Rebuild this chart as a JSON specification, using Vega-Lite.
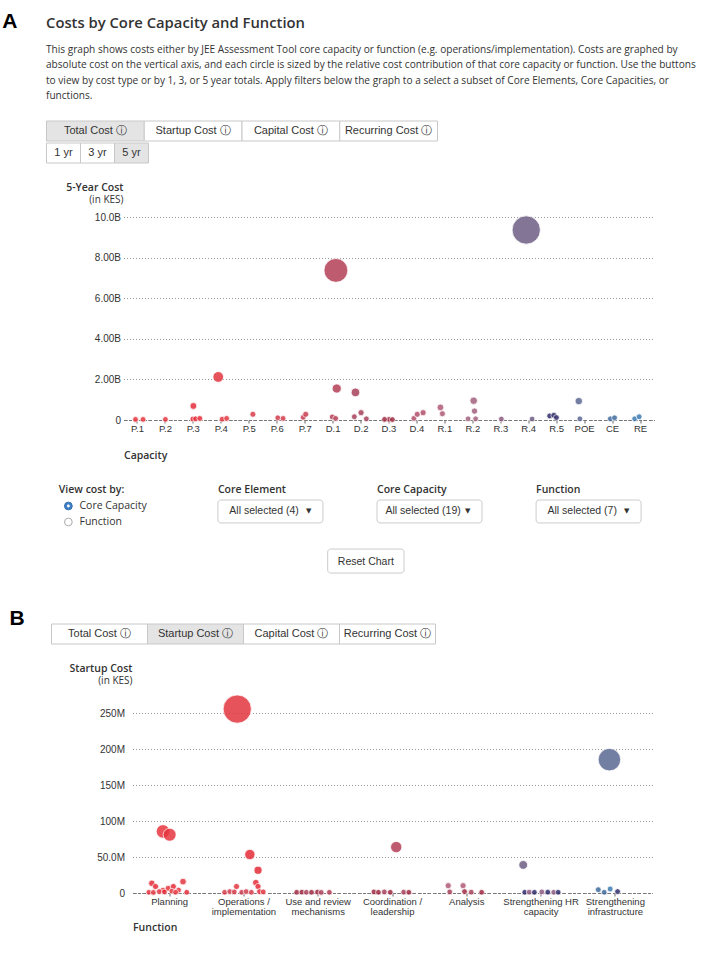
{
  "$schema": "https://vega.github.io/schema/vega-lite/v6.json",
  "background": "#ffffff",
  "padding": {"left": 1.5, "top": 11, "right": 2, "bottom": 2},
  "autosize": {"type": "pad"},
  "config": {
    "view": {"stroke": null},
    "font": "Liberation Sans",
    "axis": {"labelFont": "Liberation Sans", "titleFont": "Open Sans"},
    "title": {"font": "Open Sans"}
  },
  "resolve": {"scale": {"size": "independent", "color": "independent", "xOffset": "independent"}},
  "spacing": 29,
  "datasets": {
    "costTypesA": [
      {"button": "Total Cost ⓘ", "selected": true},
      {"button": "Startup Cost ⓘ", "selected": false},
      {"button": "Capital Cost ⓘ", "selected": false},
      {"button": "Recurring Cost ⓘ", "selected": false}
    ],
    "costTypesB": [
      {"button": "Total Cost ⓘ", "selected": false},
      {"button": "Startup Cost ⓘ", "selected": true},
      {"button": "Capital Cost ⓘ", "selected": false},
      {"button": "Recurring Cost ⓘ", "selected": false}
    ],
    "periods": [
      {"button": "1 yr", "selected": false},
      {"button": "3 yr", "selected": false},
      {"button": "5 yr", "selected": true}
    ],
    "controlLabels": [
      {"control": "View cost by:"},
      {"control": "Core Element"},
      {"control": "Core Capacity"},
      {"control": "Function"}
    ],
    "dropdowns": [
      {"control": "Core Element", "selection": "All selected (4)"},
      {"control": "Core Capacity", "selection": "All selected (19)"},
      {"control": "Function", "selection": "All selected (7)"}
    ],
    "radios": [
      {"option": "Core Capacity", "checked": true},
      {"option": "Function", "checked": false}
    ],
    "resetButton": [{"action": "Reset Chart"}],
    "capacities": [
      {"capacity": "P.1", "cost": 30000000, "jitter": -0.07},
      {"capacity": "P.1", "cost": 30000000, "jitter": 0.2},
      {"capacity": "P.2", "cost": 30000000, "jitter": 0.0},
      {"capacity": "P.3", "cost": 690000000, "jitter": 0.0},
      {"capacity": "P.3", "cost": 50000000, "jitter": -0.02},
      {"capacity": "P.3", "cost": 60000000, "jitter": 0.08},
      {"capacity": "P.3", "cost": 80000000, "jitter": 0.23},
      {"capacity": "P.4", "cost": 2120000000, "jitter": -0.11},
      {"capacity": "P.4", "cost": 40000000, "jitter": 0.03},
      {"capacity": "P.4", "cost": 80000000, "jitter": 0.19},
      {"capacity": "P.5", "cost": 280000000, "jitter": 0.13},
      {"capacity": "P.6", "cost": 110000000, "jitter": 0.02},
      {"capacity": "P.6", "cost": 80000000, "jitter": 0.21},
      {"capacity": "P.7", "cost": 130000000, "jitter": -0.07},
      {"capacity": "P.7", "cost": 280000000, "jitter": 0.02},
      {"capacity": "D.1", "cost": 7370000000, "jitter": 0.1},
      {"capacity": "D.1", "cost": 1550000000, "jitter": 0.13},
      {"capacity": "D.1", "cost": 150000000, "jitter": -0.03},
      {"capacity": "D.1", "cost": 80000000, "jitter": 0.09},
      {"capacity": "D.2", "cost": 1360000000, "jitter": -0.2},
      {"capacity": "D.2", "cost": 360000000, "jitter": 0.0},
      {"capacity": "D.2", "cost": 160000000, "jitter": -0.24},
      {"capacity": "D.2", "cost": 60000000, "jitter": 0.19},
      {"capacity": "D.3", "cost": 30000000, "jitter": 0.0},
      {"capacity": "D.3", "cost": 30000000, "jitter": -0.16},
      {"capacity": "D.3", "cost": 20000000, "jitter": 0.12},
      {"capacity": "D.4", "cost": 80000000, "jitter": -0.11},
      {"capacity": "D.4", "cost": 280000000, "jitter": 0.01},
      {"capacity": "D.4", "cost": 360000000, "jitter": 0.22},
      {"capacity": "R.1", "cost": 620000000, "jitter": -0.16},
      {"capacity": "R.1", "cost": 310000000, "jitter": -0.09},
      {"capacity": "R.2", "cost": 950000000, "jitter": 0.03},
      {"capacity": "R.2", "cost": 440000000, "jitter": 0.06},
      {"capacity": "R.2", "cost": 60000000, "jitter": -0.17},
      {"capacity": "R.2", "cost": 60000000, "jitter": 0.1},
      {"capacity": "R.3", "cost": 50000000, "jitter": 0.02},
      {"capacity": "R.4", "cost": 9360000000, "jitter": -0.09},
      {"capacity": "R.4", "cost": 50000000, "jitter": 0.12},
      {"capacity": "R.5", "cost": 200000000, "jitter": -0.25},
      {"capacity": "R.5", "cost": 230000000, "jitter": -0.1},
      {"capacity": "R.5", "cost": 120000000, "jitter": -0.01},
      {"capacity": "POE", "cost": 930000000, "jitter": -0.21},
      {"capacity": "POE", "cost": 60000000, "jitter": -0.17},
      {"capacity": "CE", "cost": 60000000, "jitter": -0.08},
      {"capacity": "CE", "cost": 110000000, "jitter": 0.07},
      {"capacity": "RE", "cost": 60000000, "jitter": -0.21},
      {"capacity": "RE", "cost": 160000000, "jitter": -0.05}
    ],
    "functions": [
      {"function": "Planning", "capacity": "P.1", "cost": 85600000, "jitter": -0.09},
      {"function": "Planning", "capacity": "P.2", "cost": 81000000, "jitter": 0.0},
      {"function": "Planning", "capacity": "P.3", "cost": 13500000, "jitter": -0.24},
      {"function": "Planning", "capacity": "P.3", "cost": 9000000, "jitter": -0.19},
      {"function": "Planning", "capacity": "P.4", "cost": 4000000, "jitter": -0.09},
      {"function": "Planning", "capacity": "P.1", "cost": 6500000, "jitter": -0.02},
      {"function": "Planning", "capacity": "P.3", "cost": 9000000, "jitter": 0.05},
      {"function": "Planning", "capacity": "P.2", "cost": 4000000, "jitter": 0.12},
      {"function": "Planning", "capacity": "P.4", "cost": 15800000, "jitter": 0.18},
      {"function": "Planning", "capacity": "P.1", "cost": 2000000, "jitter": -0.14},
      {"function": "Planning", "capacity": "P.3", "cost": 1500000, "jitter": -0.07},
      {"function": "Planning", "capacity": "P.4", "cost": 2500000, "jitter": 0.03},
      {"function": "Planning", "capacity": "P.2", "cost": 1000000, "jitter": 0.08},
      {"function": "Planning", "capacity": "P.3", "cost": 1000000, "jitter": 0.23},
      {"function": "Planning", "capacity": "P.1", "cost": 1000000, "jitter": -0.28},
      {"function": "Planning", "capacity": "P.4", "cost": 800000, "jitter": -0.22},
      {"function": "Operations / implementation", "capacity": "P.4", "cost": 255600000, "jitter": -0.09},
      {"function": "Operations / implementation", "capacity": "P.3", "cost": 53500000, "jitter": 0.08},
      {"function": "Operations / implementation", "capacity": "P.3", "cost": 31600000, "jitter": 0.19},
      {"function": "Operations / implementation", "capacity": "P.3", "cost": 14400000, "jitter": 0.16},
      {"function": "Operations / implementation", "capacity": "P.4", "cost": 9000000, "jitter": -0.1},
      {"function": "Operations / implementation", "capacity": "P.3", "cost": 9000000, "jitter": 0.19},
      {"function": "Operations / implementation", "capacity": "P.5", "cost": 1000000, "jitter": -0.26},
      {"function": "Operations / implementation", "capacity": "P.6", "cost": 2000000, "jitter": -0.19},
      {"function": "Operations / implementation", "capacity": "P.5", "cost": 1500000, "jitter": -0.13},
      {"function": "Operations / implementation", "capacity": "P.7", "cost": 1000000, "jitter": -0.03},
      {"function": "Operations / implementation", "capacity": "P.6", "cost": 2000000, "jitter": 0.03},
      {"function": "Operations / implementation", "capacity": "P.5", "cost": 1000000, "jitter": 0.1},
      {"function": "Operations / implementation", "capacity": "P.3", "cost": 2000000, "jitter": 0.21},
      {"function": "Operations / implementation", "capacity": "P.4", "cost": 1500000, "jitter": 0.26},
      {"function": "Use and review mechanisms", "capacity": "D.3", "cost": 1000000, "jitter": -0.29},
      {"function": "Use and review mechanisms", "capacity": "D.3", "cost": 1200000, "jitter": -0.22},
      {"function": "Use and review mechanisms", "capacity": "D.2", "cost": 1000000, "jitter": -0.16},
      {"function": "Use and review mechanisms", "capacity": "D.3", "cost": 1000000, "jitter": -0.09},
      {"function": "Use and review mechanisms", "capacity": "D.3", "cost": 1300000, "jitter": -0.01},
      {"function": "Use and review mechanisms", "capacity": "D.2", "cost": 800000, "jitter": 0.04},
      {"function": "Use and review mechanisms", "capacity": "D.1", "cost": 1000000, "jitter": 0.15},
      {"function": "Coordination / leadership", "capacity": "D.1", "cost": 63800000, "jitter": 0.05},
      {"function": "Coordination / leadership", "capacity": "D.3", "cost": 1500000, "jitter": -0.25},
      {"function": "Coordination / leadership", "capacity": "D.3", "cost": 1000000, "jitter": -0.19},
      {"function": "Coordination / leadership", "capacity": "D.2", "cost": 1500000, "jitter": -0.11},
      {"function": "Coordination / leadership", "capacity": "D.3", "cost": 1000000, "jitter": -0.03},
      {"function": "Coordination / leadership", "capacity": "D.2", "cost": 1200000, "jitter": 0.15},
      {"function": "Coordination / leadership", "capacity": "D.3", "cost": 1000000, "jitter": 0.22},
      {"function": "Analysis", "capacity": "R.1", "cost": 10200000, "jitter": -0.25},
      {"function": "Analysis", "capacity": "R.1", "cost": 10200000, "jitter": -0.05},
      {"function": "Analysis", "capacity": "D.2", "cost": 1500000, "jitter": -0.23},
      {"function": "Analysis", "capacity": "D.3", "cost": 2000000, "jitter": -0.03},
      {"function": "Analysis", "capacity": "D.2", "cost": 1200000, "jitter": 0.06},
      {"function": "Analysis", "capacity": "D.3", "cost": 1000000, "jitter": 0.2},
      {"function": "Strengthening HR capacity", "capacity": "R.4", "cost": 39000000, "jitter": -0.24},
      {"function": "Strengthening HR capacity", "capacity": "R.5", "cost": 1000000, "jitter": -0.22},
      {"function": "Strengthening HR capacity", "capacity": "R.3", "cost": 1200000, "jitter": -0.16},
      {"function": "Strengthening HR capacity", "capacity": "R.5", "cost": 1000000, "jitter": -0.09},
      {"function": "Strengthening HR capacity", "capacity": "R.3", "cost": 1500000, "jitter": 0.01},
      {"function": "Strengthening HR capacity", "capacity": "R.5", "cost": 1200000, "jitter": 0.09},
      {"function": "Strengthening HR capacity", "capacity": "R.3", "cost": 1000000, "jitter": 0.17},
      {"function": "Strengthening HR capacity", "capacity": "R.5", "cost": 1000000, "jitter": 0.23},
      {"function": "Strengthening infrastructure", "capacity": "POE", "cost": 185300000, "jitter": -0.08},
      {"function": "Strengthening infrastructure", "capacity": "CE", "cost": 4600000, "jitter": -0.23},
      {"function": "Strengthening infrastructure", "capacity": "RE", "cost": 5600000, "jitter": -0.07},
      {"function": "Strengthening infrastructure", "capacity": "R.5", "cost": 2000000, "jitter": 0.03},
      {"function": "Strengthening infrastructure", "capacity": "CE", "cost": 1000000, "jitter": -0.15}
    ]
  },
  "vconcat": [
    {
      "title": {"text": "A", "orient": "left", "anchor": "end", "angle": 0, "align": "right", "baseline": "top", "offset": 13.5, "dy": -5, "font": "Liberation Sans", "fontSize": 21, "fontWeight": "bold", "color": "#000000"},
      "spacing": 18,
      "vconcat": [
        {
          "spacing": 0,
          "vconcat": [
            {
              "title": {
                "text": "Costs by Core Capacity and Function",
                "subtitle": [
                  "This graph shows costs either by JEE Assessment Tool core capacity or function (e.g. operations/implementation). Costs are graphed by",
                  "absolute cost on the vertical axis, and each circle is sized by the relative cost contribution of that core capacity or function. Use the buttons",
                  "to view by cost type or by 1, 3, or 5 year totals. Apply filters below the graph to a select a subset of Core Elements, Core Capacities, or",
                  "functions."
                ],
                "anchor": "start",
                "fontSize": 14.8,
                "fontWeight": 600,
                "color": "#333333",
                "subtitleFont": "Open Sans",
                "subtitleFontSize": 10.1,
                "subtitleColor": "#333333",
                "subtitleLineHeight": 15.3,
                "subtitlePadding": 14,
                "offset": 19.5
              },
              "width": 391,
              "height": 20,
              "data": {"name": "costTypesA"},
              "encoding": {"x": {"field": "button", "type": "nominal", "sort": null, "scale": {"paddingInner": 0, "paddingOuter": 0}, "axis": null}},
              "layer": [
                {"mark": {"type": "rect", "stroke": "#c8c8c8", "strokeWidth": 1}, "encoding": {"x": {"field": "button", "type": "nominal", "sort": null, "bandPosition": 0}, "x2": {"field": "button", "bandPosition": 1}, "fill": {"condition": {"test": "datum.selected", "value": "#e4e4e4"}, "value": "#ffffff"}}},
                {"mark": {"type": "text", "font": "Liberation Sans", "fontSize": 11, "color": "#333333"}, "encoding": {"text": {"field": "button"}}}
              ]
            },
            {
              "width": 102,
              "height": 20,
              "data": {"name": "periods"},
              "encoding": {"x": {"field": "button", "type": "nominal", "sort": null, "scale": {"paddingInner": 0, "paddingOuter": 0}, "axis": null}},
              "layer": [
                {"mark": {"type": "rect", "stroke": "#c8c8c8", "strokeWidth": 1}, "encoding": {"x": {"field": "button", "type": "nominal", "sort": null, "bandPosition": 0}, "x2": {"field": "button", "bandPosition": 1}, "fill": {"condition": {"test": "datum.selected", "value": "#e4e4e4"}, "value": "#ffffff"}}},
                {"mark": {"type": "text", "font": "Liberation Sans", "fontSize": 11, "color": "#333333"}, "encoding": {"text": {"field": "button"}}}
              ]
            }
          ]
        },
        {
          "spacing": 21,
          "vconcat": [
            {
              "spacing": 0,
              "hconcat": [
                {"width": 19, "height": 1, "data": {"values": []}, "mark": "point"},
                {
                  "width": 531,
                  "height": 203,
                  "data": {"name": "capacities"},
                  "title": {"text": "5-Year Cost", "subtitle": "(in KES)", "anchor": "start", "frame": "group", "align": "right", "fontSize": 10.5, "fontWeight": 600, "color": "#333333", "subtitleFont": "Open Sans", "subtitleFontSize": 10, "subtitleColor": "#333333", "subtitlePadding": 2, "offset": 7},
                  "mark": {"type": "circle", "opacity": 0.85, "stroke": "#ffffff", "strokeWidth": 0.8},
                  "encoding": {
                    "x": {
                      "field": "capacity", "type": "nominal",
                      "scale": {"domain": ["P.1","P.2","P.3","P.4","P.5","P.6","P.7","D.1","D.2","D.3","D.4","R.1","R.2","R.3","R.4","R.5","POE","CE","RE"], "paddingInner": 0, "paddingOuter": 0},
                      "axis": {"title": "Capacity", "titleAnchor": "start", "titleAlign": "left", "titleFontSize": 10.5, "titleFontWeight": 600, "titleColor": "#333333", "titlePadding": 18, "labelAngle": 0, "labelFontSize": 9.5, "labelColor": "#333333", "labelPadding": 0, "tickSize": 3, "tickColor": "#666666", "domainColor": "#777777", "domainDash": [3, 2], "grid": false}
                    },
                    "xOffset": {"field": "jitter", "type": "quantitative", "scale": {"domain": [-0.5, 0.5]}},
                    "y": {
                      "field": "cost", "type": "quantitative",
                      "scale": {"domain": [0, 10000000000], "nice": false},
                      "axis": {"values": [0, 2000000000, 4000000000, 6000000000, 8000000000, 10000000000], "labelExpr": "datum.value == 0 ? '0' : replace(format(datum.value, '.3s'), 'G', 'B')", "title": null, "grid": true, "gridDash": [1, 2], "gridColor": "#999999", "domain": false, "ticks": false, "labelPadding": 3, "labelFontSize": 10, "labelColor": "#333333"}
                    },
                    "size": {"field": "cost", "type": "quantitative", "scale": {"type": "pow", "exponent": 1.5, "domain": [0, 9360000000], "range": [32, 800]}, "legend": null},
                    "color": {"field": "capacity", "type": "nominal", "scale": {"domain": ["P.1","P.2","P.3","P.4","P.5","P.6","P.7","D.1","D.2","D.3","D.4","R.1","R.2","R.3","R.4","R.5","POE","CE","RE"], "range": ["#e8343e","#e6363f","#e42c38","#e3363f","#d83a4a","#d23b4c","#c93c50","#b53f57","#a8405a","#9e2a40","#b24f69","#b05a78","#a3607e","#8c5a80","#6d5e84","#2f2b69","#5b6893","#3f6b9d","#3d7cb2"]}, "legend": null}
                  }
                }
              ]
            },
            {
              "width": 661,
              "height": 96,
              "encoding": {
                "x": {"field": "control", "type": "nominal", "scale": {"domain": ["View cost by:", "Core Element", "Core Capacity", "Function"], "paddingInner": 0, "paddingOuter": 0.0775}, "axis": null}
              },
              "layer": [
                {
                  "data": {"name": "controlLabels"},
                  "mark": {"type": "text", "align": "left", "baseline": "middle", "font": "Open Sans", "fontSize": 10.5, "fontWeight": 600, "color": "#333333"},
                  "encoding": {
                    "x": {"field": "control", "type": "nominal", "bandPosition": 0},
                    "y": {"datum": "header", "type": "nominal", "bandPosition": 0.5, "scale": {"domain": ["header", "Core Capacity", "Function", "s1", "s2", "s3"], "paddingInner": 0, "paddingOuter": 0}, "axis": null},
                    "text": {"field": "control"}
                  }
                },
                {
                  "data": {"name": "dropdowns"},
                  "mark": {"type": "rect", "fill": "#ffffff", "stroke": "#cccccc", "strokeWidth": 1, "cornerRadius": 3},
                  "encoding": {
                    "x": {"field": "control", "type": "nominal", "bandPosition": 0},
                    "x2": {"field": "control", "bandPosition": 0.66},
                    "y": {"datum": "Core Capacity", "type": "nominal", "bandPosition": 0.125},
                    "y2": {"datum": "Function", "bandPosition": 0.56}
                  }
                },
                {
                  "data": {"name": "dropdowns"},
                  "mark": {"type": "text", "baseline": "middle", "font": "Liberation Sans", "fontSize": 10.5, "color": "#333333"},
                  "encoding": {
                    "x": {"field": "control", "type": "nominal", "bandPosition": 0.29},
                    "y": {"datum": "Core Capacity", "type": "nominal", "bandPosition": 0.84},
                    "text": {"field": "selection"}
                  }
                },
                {
                  "data": {"name": "dropdowns"},
                  "mark": {"type": "text", "baseline": "middle", "font": "DejaVu Sans", "fontSize": 7, "color": "#333333", "text": "▼"},
                  "encoding": {
                    "x": {"field": "control", "type": "nominal", "bandPosition": 0.57},
                    "y": {"datum": "Core Capacity", "type": "nominal", "bandPosition": 0.84}
                  }
                },
                {
                  "data": {"name": "radios"},
                  "mark": {"type": "circle", "size": 60, "opacity": 1, "strokeWidth": 1},
                  "encoding": {
                    "x": {"datum": "View cost by:", "type": "nominal", "bandPosition": 0.06},
                    "y": {"field": "option", "type": "nominal"},
                    "fill": {"condition": {"test": "datum.checked", "value": "#3f7fc4"}, "value": "#ffffff"},
                    "stroke": {"condition": {"test": "datum.checked", "value": "#3570b0"}, "value": "#aaaaaa"}
                  }
                },
                {
                  "data": {"name": "radios"},
                  "transform": [{"filter": "datum.checked"}],
                  "mark": {"type": "circle", "size": 8, "opacity": 1, "fill": "#ffffff"},
                  "encoding": {
                    "x": {"datum": "View cost by:", "type": "nominal", "bandPosition": 0.06},
                    "y": {"field": "option", "type": "nominal"}
                  }
                },
                {
                  "data": {"name": "radios"},
                  "mark": {"type": "text", "align": "left", "baseline": "middle", "font": "Open Sans", "fontSize": 10.5, "color": "#333333"},
                  "encoding": {
                    "x": {"datum": "View cost by:", "type": "nominal", "bandPosition": 0.13},
                    "y": {"field": "option", "type": "nominal"},
                    "text": {"field": "option"}
                  }
                },
                {
                  "data": {"name": "resetButton"},
                  "mark": {"type": "rect", "fill": "#ffffff", "stroke": "#cccccc", "strokeWidth": 1, "cornerRadius": 3},
                  "encoding": {
                    "x": {"datum": "Core Element", "type": "nominal", "bandPosition": 0.69},
                    "x2": {"datum": "Core Capacity", "bandPosition": 0.17},
                    "y": {"datum": "s2", "type": "nominal", "bandPosition": 0.19},
                    "y2": {"datum": "s3", "bandPosition": 0.69}
                  }
                },
                {
                  "data": {"name": "resetButton"},
                  "mark": {"type": "text", "baseline": "middle", "font": "Liberation Sans", "fontSize": 10.5, "color": "#333333"},
                  "encoding": {
                    "x": {"datum": "Core Element", "type": "nominal", "bandPosition": 0.93},
                    "y": {"datum": "s3", "type": "nominal", "bandPosition": 0},
                    "text": {"field": "action"}
                  }
                }
              ]
            }
          ]
        }
      ]
    },
    {
      "title": {"text": "B", "orient": "left", "anchor": "end", "angle": 0, "align": "right", "baseline": "top", "offset": 6.6, "dy": -16, "font": "Liberation Sans", "fontSize": 21, "fontWeight": "bold", "color": "#000000"},
      "spacing": 18,
      "vconcat": [
        {
          "spacing": 0,
          "hconcat": [
            {"width": 4, "height": 1, "data": {"values": []}, "mark": "point"},
            {
              "width": 384,
              "height": 20,
              "data": {"name": "costTypesB"},
              "encoding": {"x": {"field": "button", "type": "nominal", "sort": null, "scale": {"paddingInner": 0, "paddingOuter": 0}, "axis": null}},
              "layer": [
                {"mark": {"type": "rect", "stroke": "#c8c8c8", "strokeWidth": 1}, "encoding": {"x": {"field": "button", "type": "nominal", "sort": null, "bandPosition": 0}, "x2": {"field": "button", "bandPosition": 1}, "fill": {"condition": {"test": "datum.selected", "value": "#e4e4e4"}, "value": "#ffffff"}}},
                {"mark": {"type": "text", "font": "Liberation Sans", "fontSize": 11, "color": "#333333"}, "encoding": {"text": {"field": "button"}}}
              ]
            }
          ]
        },
        {
          "spacing": 0,
          "hconcat": [
            {"width": 22.5, "height": 1, "data": {"values": []}, "mark": "point"},
            {
              "width": 520,
              "height": 195,
              "data": {"name": "functions"},
              "title": {"text": "Startup Cost", "subtitle": "(in KES)", "anchor": "start", "frame": "group", "align": "right", "fontSize": 10.5, "fontWeight": 600, "color": "#333333", "subtitleFont": "Open Sans", "subtitleFontSize": 10, "subtitleColor": "#333333", "subtitlePadding": 2, "offset": 7},
              "mark": {"type": "circle", "opacity": 0.85, "stroke": "#ffffff", "strokeWidth": 0.8},
              "encoding": {
                "x": {
                  "field": "function", "type": "nominal",
                  "scale": {"domain": ["Planning", "Operations / implementation", "Use and review mechanisms", "Coordination / leadership", "Analysis", "Strengthening HR capacity", "Strengthening infrastructure"], "paddingInner": 0, "paddingOuter": 0},
                  "axis": {"title": "Function", "titleAnchor": "start", "titleAlign": "left", "titleFontSize": 10.5, "titleFontWeight": 600, "titleColor": "#333333", "titlePadding": 6, "labelAngle": 0, "labelFontSize": 9.5, "labelColor": "#333333", "labelPadding": 0, "labelLineHeight": 10.5, "tickSize": 3, "tickColor": "#666666", "domainColor": "#777777", "domainDash": [3, 2], "grid": false,
                    "labelExpr": "datum.label == 'Operations / implementation' ? ['Operations /', 'implementation'] : datum.label == 'Use and review mechanisms' ? ['Use and review', 'mechanisms'] : datum.label == 'Coordination / leadership' ? ['Coordination /', 'leadership'] : datum.label == 'Strengthening HR capacity' ? ['Strengthening HR', 'capacity'] : datum.label == 'Strengthening infrastructure' ? ['Strengthening', 'infrastructure'] : datum.label"}
                },
                "xOffset": {"field": "jitter", "type": "quantitative", "scale": {"domain": [-0.5, 0.5]}},
                "y": {
                  "field": "cost", "type": "quantitative",
                  "scale": {"domain": [0, 271000000], "nice": false},
                  "axis": {"values": [0, 50000000, 100000000, 150000000, 200000000, 250000000], "labelExpr": "datum.value == 0 ? '0' : format(datum.value, '.3s')", "title": null, "grid": true, "gridDash": [1, 2], "gridColor": "#999999", "domain": false, "ticks": false, "labelPadding": 8, "labelFontSize": 10, "labelColor": "#333333"}
                },
                "size": {"field": "cost", "type": "quantitative", "scale": {"type": "pow", "exponent": 1.5, "domain": [0, 255600000], "range": [32, 800]}, "legend": null},
                "color": {"field": "capacity", "type": "nominal", "scale": {"domain": ["P.1","P.2","P.3","P.4","P.5","P.6","P.7","D.1","D.2","D.3","D.4","R.1","R.2","R.3","R.4","R.5","POE","CE","RE"], "range": ["#e8343e","#e6363f","#e42c38","#e3363f","#d83a4a","#d23b4c","#c93c50","#b53f57","#a8405a","#9e2a40","#b24f69","#b05a78","#a3607e","#8c5a80","#6d5e84","#2f2b69","#5b6893","#3f6b9d","#3d7cb2"]}, "legend": null}
              }
            }
          ]
        }
      ]
    }
  ]
}
